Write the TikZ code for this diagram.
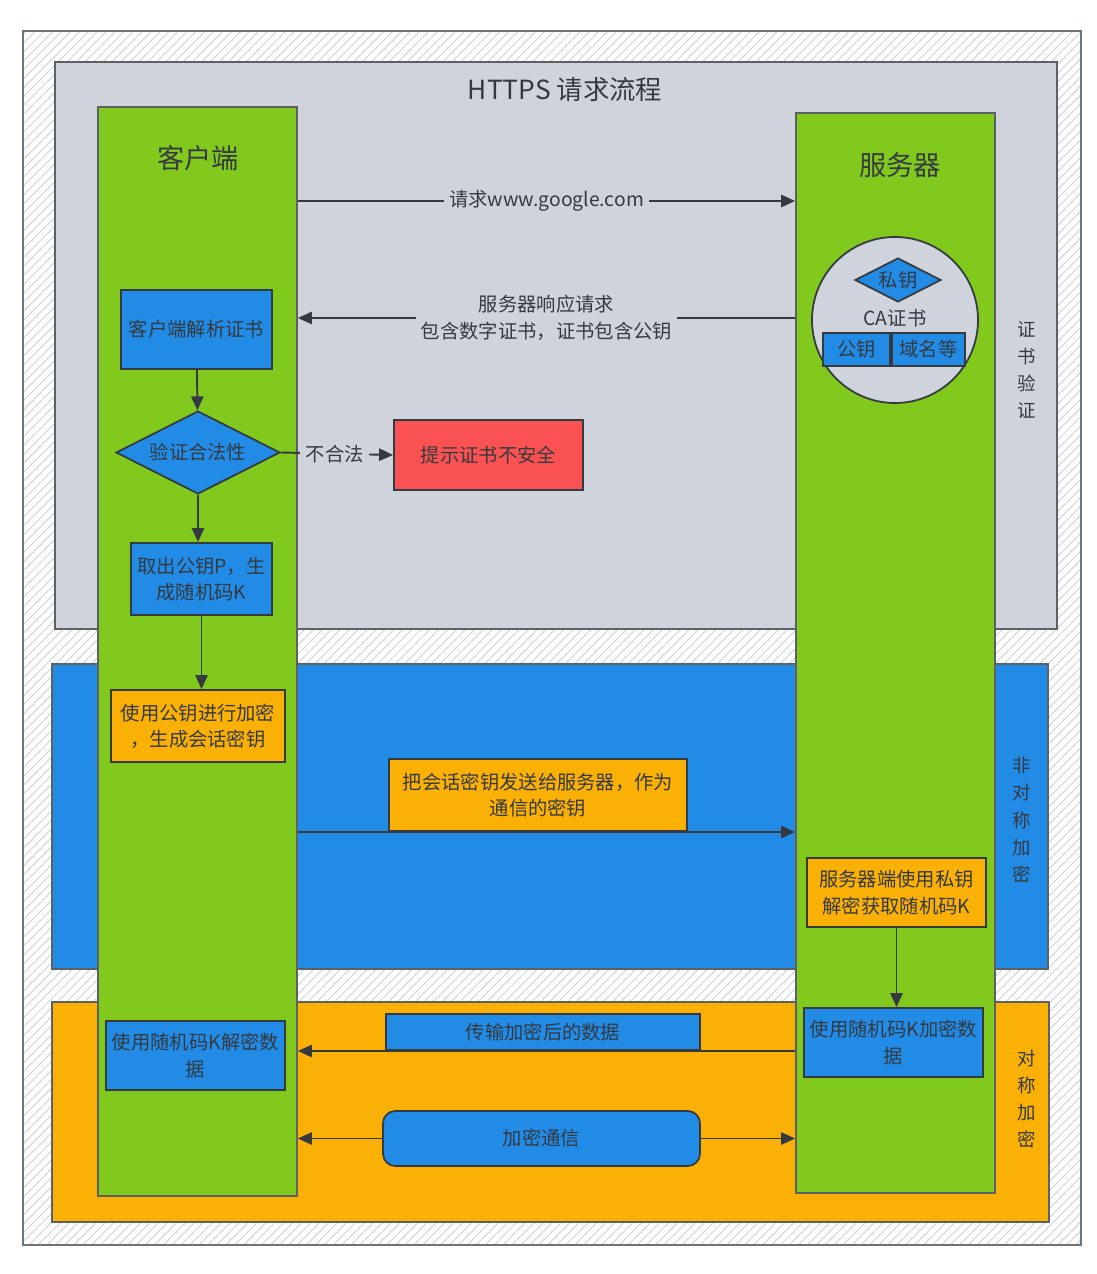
\documentclass[tikz,border=0pt]{standalone}
\usepackage{fontspec}
\setmainfont{Noto Sans CJK SC}
\usetikzlibrary{arrows.meta,shapes.geometric,patterns.meta}
\definecolor{ink}{HTML}{343A40}
\definecolor{framegray}{HTML}{6C737A}
\definecolor{panelgray}{HTML}{CFD4DC}
\definecolor{hatchgray}{HTML}{CDD1D7}
\definecolor{leafgreen}{HTML}{82C91E}
\definecolor{skyblue}{HTML}{228BE6}
\definecolor{amber}{HTML}{FAB005}
\definecolor{alertred}{HTML}{FA5252}
\tikzset{
  px/.style 2 args={minimum width=#1*0.02cm, minimum height=#2*0.02cm},
  txt/.style={text=ink, align=center, font=\fontsize{11}{15}\selectfont},
  box/.style={txt, draw=ink, line width=1pt, inner sep=2pt},
  bluebox/.style={box, fill=skyblue},
  amberbox/.style={box, fill=amber},
  decision/.style={bluebox, diamond, aspect=2, inner sep=0pt},
  column/.style={draw=ink!80, line width=1pt, fill=leafgreen, inner sep=0pt},
  panel/.style={draw=ink!80, line width=0.9pt},
  lbl/.style={txt, fill=panelgray, inner sep=3pt},
  sidelbl/.style={txt, font=\fontsize{10.5}{15.5}\selectfont},
  flow/.style={draw=ink, line width=1.1pt, -{Triangle[length=8pt,width=7pt]}}
}
\begin{document}
\begin{tikzpicture}[x=0.02cm, y=-0.02cm]
  \useasboundingbox[fill=white] (0,0) rectangle (1096,1274);

  % Rahmen und Bereiche
  \draw[framegray, line width=1.2pt, pattern={Lines[angle=45,distance=3.6pt,line width=0.5pt]}, pattern color=hatchgray]
    (23,31) rectangle (1081,1245);
  \filldraw[panel, fill=panelgray] (55,62) rectangle (1057,629);
  \filldraw[panel, fill=skyblue] (52,664) rectangle (1048,969);
  \filldraw[panel, fill=amber] (52,1002) rectangle (1049,1222);

  \node[txt, font=\fontsize{15}{18}\selectfont] (title) at (565,90) {HTTPS 请求流程};

  % Spalten
  \node[column, px={199}{1089}] (client) at (197.5,651.5) {};
  \node[column, px={199}{1080}] (server) at (895.5,653) {};
  \node[txt, font=\fontsize{15.5}{18}\selectfont] (clientlbl) at (198,158) {客户端};
  \node[txt, font=\fontsize{15.5}{18}\selectfont] (serverlbl) at (900,165) {服务器};

  % Seitenbeschriftung
  \node[sidelbl] (certlbl) at (1027,370) {证\\书\\验\\证};
  \node[sidelbl] (asymlbl) at (1022,820) {非\\对\\称\\加\\密};
  \node[sidelbl] (symlbl) at (1027,1099) {对\\称\\加\\密};

  % CA-Zertifikat
  \node[circle, draw=ink, line width=1pt, fill=panelgray, px={166}{166}] (ca) at (895,320) {};
  \node[decision, px={86}{44}] (privkey) at (898,280) {私钥};
  \node[txt] (catext) at (895,318) {CA证书};
  \node[bluebox, px={67}{33}] (pubkey) at (856.5,349.5) {公钥};
  \node[bluebox, px={73}{33}] (domain) at (928.5,349.5) {域名等};

  % Client-Schritte
  \node[bluebox, px={151}{79}] (parse) at (196.5,329.5) {客户端解析证书};
  \node[decision, px={164}{83}] (verify) at (198,452.5) {验证合法性};
  \node[box, fill=alertred, px={189}{70}] (alert) at (488.5,455) {提示证书不安全};
  \node[bluebox, px={141}{72}] (getkey) at (201.5,579) {取出公钥P，生\\成随机码K};
  \node[amberbox, px={174}{72}] (encrypt) at (198,726) {使用公钥进行加密\\，生成会话密钥};
  \node[bluebox, px={179}{69}] (decdata) at (195.5,1055.5) {使用随机码K解密数\\据};

  % Server-Schritte
  \node[amberbox, px={179}{69}] (decrypt) at (896.5,892.5) {服务器端使用私钥\\解密获取随机码K};
  \node[bluebox, px={179}{69}] (encdata) at (893.5,1042.5) {使用随机码K加密数\\据};

  % Nachrichten
  \coordinate (yreq) at (0,201);
  \coordinate (yresp) at (0,318);
  \coordinate (ykey) at (0,832);
  \coordinate (ydata) at (0,1051);
  \draw[flow] (client.east |- yreq) -- node[lbl] {请求www.google.com} (server.west |- yreq);
  \draw[flow] (server.west |- yresp) -- node[lbl] {服务器响应请求\\包含数字证书，证书包含公钥} (client.east |- yresp);
  \draw[flow] (client.east |- ykey) -- (server.west |- ykey);
  \node[amberbox, px={298}{72}] (sendkey) at (538,795) {把会话密钥发送给服务器，作为\\通信的密钥};
  \draw[flow] (server.west |- ydata) -- (client.east |- ydata);
  \node[bluebox, px={314}{36}] (xfer) at (543,1032) {传输加密后的数据};
  \node[bluebox, rounded corners=7pt, px={317}{55}] (comm) at (541.5,1138.5) {加密通信};
  \draw[flow] (comm.west) -- (client.east |- comm.west);
  \draw[flow] (comm.east) -- (server.west |- comm.east);

  % Ablauf
  \draw[flow] (parse) -- (verify);
  \draw[flow] (verify.east) -- node[lbl, pos=0.48] {不合法} (alert.west);
  \draw[flow] (verify.south) -- (verify.south |- getkey.north);
  \draw[flow] (getkey.south) -- (getkey.south |- encrypt.north);
  \draw[flow] (decrypt.south) -- (decrypt.south |- encdata.north);
\end{tikzpicture}
\end{document}
